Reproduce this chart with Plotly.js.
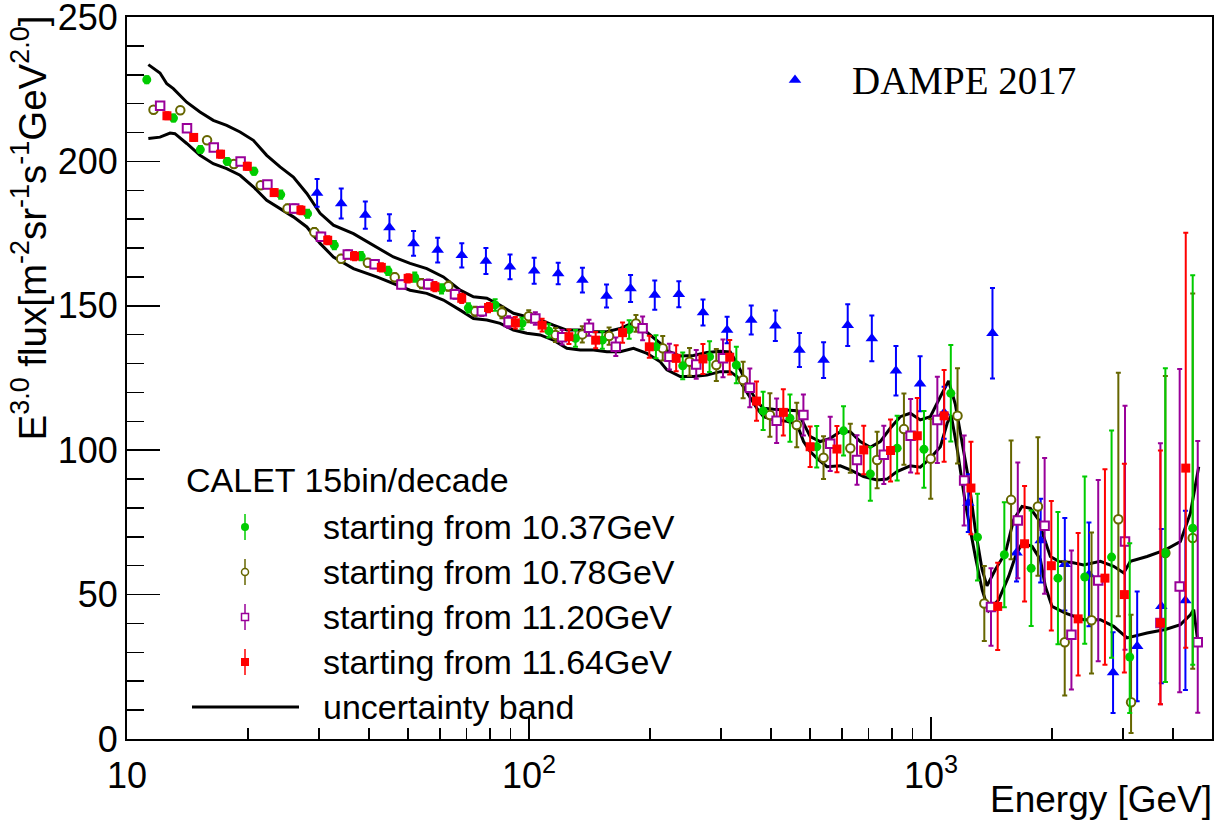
<!DOCTYPE html>
<html><head><meta charset="utf-8">
<script src="https://cdn.plot.ly/plotly-3.0.1.min.js"></script>
<style>html,body{margin:0;padding:0;background:#fff;} #chart{width:1219px;height:834px;}</style>
</head><body><div id="chart"></div>
<script>
// ---------------- data ----------------
const energyGreen = [11.20,13.05,15.22,17.75,20.69,24.12,28.13,32.79,38.23,44.58,51.97,60.59,70.65,82.37,96.04,112.0,130.5,152.2,177.5,206.9,241.2,281.3,327.9,382.3,445.8,519.7,605.9,706.5,823.7,960.4,1120,1305,1522,1775,2069,2412,2813,3121,3828,4477];
const fluxGreen = [228.3,215.0,204.1,200.0,196.6,188.5,181.9,171.0,167.2,162.1,159.9,155.9,149.3,150.3,143.9,141.3,138.7,138.1,141.8,135.8,129.2,132.4,129.5,113.6,111.1,101.2,106.7,91.8,100.7,100.3,119.7,69.9,63.8,59.1,55.7,56.1,63.0,28.4,64.4,73.0];
const errGreenUp = [1.2,1.2,1.2,1.2,1.2,1.4,1.4,1.4,1.4,1.4,1.6,1.6,1.6,2.0,2.0,2.3,2.9,3.0,3.2,4.0,4.6,5.3,6.3,6.6,8.2,7.2,8.5,9.3,11.2,13.3,16.7,15.0,18.2,20.0,22.9,34.8,43.8,39.4,64.0,87.6];
const errGreenDn = [1.2,1.2,1.2,1.2,1.2,1.4,1.4,1.4,1.4,1.4,1.6,1.6,1.6,2.0,2.0,2.3,2.9,3.0,3.2,4.0,4.6,5.3,6.3,6.6,8.2,7.2,8.5,9.3,11.2,13.3,16.7,15.0,18.2,20.0,22.9,23.1,34.9,19.4,44.7,47.3];

const energyOlive = [11.64,13.57,15.82,18.45,21.51,25.08,29.24,34.09,39.74,46.34,54.03,62.99,73.44,85.63,99.84,116.4,135.7,158.2,184.5,215.1,250.8,292.4,340.9,397.4,463.4,540.3,629.9,734.4,856.3,998.4,1164,1357,1582,1845,2151,2508,2924,3145,3828,4477];
const fluxOlive = [217.9,217.7,207.3,199.1,191.7,183.7,175.5,166.3,164.9,159.9,157.7,156.8,148.1,147.7,146.4,139.9,140.1,139.5,143.9,135.3,130.6,129.5,124.3,112.2,108.7,97.4,100.7,96.6,107.3,97.0,111.9,46.9,82.8,80.5,33.5,41.1,76.1,12.7,64.4,69.6];
const errOliveUp = [1.2,1.2,1.2,1.2,1.2,1.4,1.4,1.4,1.4,1.4,1.6,1.6,1.6,2.0,2.1,2.4,2.8,3.0,2.9,4.2,4.8,5.5,6.3,7.5,7.7,7.4,8.5,9.8,12.3,13.8,16.5,13.0,20.6,24.0,28.0,30.4,50.7,30.3,61.3,84.7];
const errOliveDn = [1.2,1.2,1.2,1.2,1.2,1.4,1.4,1.4,1.4,1.4,1.6,1.6,1.6,2.0,2.1,2.4,2.8,3.0,2.9,4.2,4.8,5.5,6.3,7.5,7.7,7.4,8.5,9.8,12.3,13.8,16.5,13.0,20.6,24.0,18.4,18.4,33.6,10.6,44.7,45.3];

const energyPurple = [12.09,14.10,16.44,19.17,22.35,26.06,30.38,35.42,41.30,48.15,56.14,65.45,76.31,88.97,103.7,120.9,141.0,164.4,191.7,223.5,260.6,303.8,354.2,413.0,481.5,561.4,654.5,763.1,889.7,1037,1209,1410,1644,1917,2235,2606,3038,3721,4155,4608];
const fluxPurple = [219.3,211.5,204.8,200.0,192.0,183.7,173.9,167.8,164.4,157.4,157.5,154.0,148.1,144.4,145.6,139.1,142.4,135.8,142.2,132.4,129.7,131.8,121.6,110.2,112.2,102.2,96.6,98.4,105.0,110.5,89.5,45.7,75.7,73.8,36.1,54.9,68.4,40.2,52.8,33.5];
const errPurpleUp = [1.2,1.2,1.2,1.2,1.2,1.4,1.4,1.4,1.4,1.4,1.6,1.6,1.6,2.0,2.2,2.5,2.8,3.2,4.1,4.5,5.0,6.5,6.7,7.7,7.1,9.4,8.6,10.1,12.7,14.9,15.6,13.4,20.0,23.5,29.2,34.8,47.0,62.2,75.3,69.7];
const errPurpleDn = [1.2,1.2,1.2,1.2,1.2,1.4,1.4,1.4,1.4,1.4,1.6,1.6,1.6,2.0,2.2,2.5,2.8,3.2,4.1,4.5,5.0,6.5,6.7,7.7,7.1,9.4,8.6,10.1,12.7,14.9,15.6,13.4,20.0,23.5,19.0,28.0,37.5,28.2,36.6,24.4];

const energyRed = [12.57,14.65,17.09,19.92,23.23,27.08,31.57,36.81,42.92,50.04,58.34,68.02,79.31,92.46,107.8,125.7,146.5,170.9,199.2,232.3,270.8,315.7,368.1,429.2,500.4,583.4,680.2,793.1,924.6,1078,1257,1465,1709,1992,2323,2708,3027,3721,4302];
const fluxRed = [215.8,208.3,202.5,198.3,189.2,183.1,172.7,167.2,163.3,159.5,156.6,152.6,149.4,144.1,143.3,139.3,138.1,140.7,135.8,131.8,131.6,132.2,117.0,113.1,101.2,100.4,100.1,99.9,105.0,111.9,86.9,45.9,67.6,60.0,41.6,55.7,50.0,40.2,93.8];
const errRedUp = [1.2,1.2,1.2,1.2,1.2,1.4,1.4,1.4,1.4,1.4,1.6,1.6,1.6,2.0,2.2,2.5,2.8,3.5,3.8,4.5,5.2,6.0,6.8,8.0,7.0,8.0,8.4,10.7,13.1,15.9,16.0,15.1,20.0,22.4,29.7,37.7,45.3,59.7,81.5];
const errRedDn = [1.2,1.2,1.2,1.2,1.2,1.4,1.4,1.4,1.4,1.4,1.6,1.6,1.6,2.0,2.2,2.5,2.8,3.5,3.8,4.5,5.2,6.0,6.8,8.0,7.0,8.0,8.4,10.7,13.1,15.9,16.0,15.1,20.0,22.4,19.6,30.0,27.0,28.2,62.2];

const energyDampe = [29.71,34.11,39.16,44.96,51.62,59.27,68.05,78.13,89.70,103.0,118.2,135.8,155.9,178.9,205.5,235.9,270.9,311.0,357.1,410.0,470.7,540.5,620.6,712.5,818.1,939.3,1078,1238,1422,1632,1874,2152,2471,2837,3257,3740,4294];
const fluxDampe = [189.1,185.4,181.4,177.1,171.6,169.3,167.5,165.5,163.5,162.1,161.2,158.9,153.4,156.0,153.7,154.0,147.7,141.6,145.1,143.1,134.7,131.2,143.3,138.7,127.5,123.0,113.0,81.7,140.5,64.5,68.7,60.5,57.0,23.0,32.1,46.0,48.0];
const errDampe = [4.8,5.2,4.7,4.6,4.3,4.3,4.2,4.5,4.3,4.5,3.7,4.3,4.0,4.7,5.1,4.5,4.5,4.6,5.0,5.3,5.9,6.2,7.2,7.9,8.6,9.5,9.0,10.0,15.7,10.0,14.5,16.0,18.0,14.0,19.0,26.7,31.0];

const bandUpperE = [11.30,12.08,12.56,13.04,14.08,15.19,16.39,17.70,19.11,20.62,22.26,24.03,25.93,28.01,30.22,32.62,36.58,41.82,45.99,50.60,55.69,61.25,67.42,72.74,78.56,84.78,91.49,98.77,106.6,115.0,124.2,134.1,144.7,156.2,168.6,178.5,189.1,200.2,212.1,220.3,237.8,256.6,277.1,299.0,316.7,329.0,341.7,355.1,369.0,383.2,405.8,438.3,464.1,481.9,500.7,530.3,561.5,594.6,629.7,666.8,706.2,747.8,791.7,838.6,888.0,940.5,996,1055,1106,1149,1195,1241,1289,1340,1378,1445,1531,1605,1684,1767,1853,1906,1981,2078,2243,2397,2638,2847,3015,3133,3447,3828,4172,4418,4634];
const bandUpper = [233.5,230.6,226.9,225.2,220.5,217.1,214.2,212.5,210.2,207.3,202.1,198.1,194.6,188.9,182.0,177.9,175.0,170.4,166.9,164.7,162.9,160.0,155.4,153.1,152.6,150.2,147.4,146.2,145.1,143.3,141.6,141.6,141.0,141.0,142.2,143.7,142.7,139.9,137.0,134.5,132.6,132.8,133.8,134.3,134.0,130.1,125.5,120.9,116.8,114.5,114.2,113.9,113.7,109.3,104.7,103.0,104.1,106.4,106.4,103.0,101.0,103.0,107.6,111.6,112.8,110.5,111.6,118.5,124.0,116.0,102.4,89.7,72.5,58.6,53.0,58.6,64.4,75.9,80.5,79.9,75.9,70.1,63.2,61.5,61.1,60.3,61.5,59.8,57.5,61.5,63.2,65.5,68.4,78.2,94.3];
const bandLowerE = [11.30,12.08,12.80,13.16,14.08,15.19,16.39,17.70,19.11,20.62,22.26,24.03,25.93,28.01,30.22,32.62,36.58,41.82,45.99,50.60,55.69,61.25,67.42,72.74,78.56,84.78,91.49,98.77,106.6,115.0,124.2,134.1,144.7,156.2,168.6,181.9,196.5,212.1,220.3,237.8,256.6,277.1,299.0,316.7,329.0,341.7,355.1,369.0,383.2,405.8,438.3,464.1,481.9,500.7,520.4,551.1,594.6,629.7,679.6,733.8,777.0,823.0,888.0,940.5,996,1055,1098,1123,1163,1217,1289,1340,1391,1473,1560,1621,1684,1784,1871,1925,2000,2159,2397,2638,2847,3074,3447,3828,4172,4418,4503,4608];
const bandLower = [207.9,208.4,209.8,209.6,206.2,202.1,199.2,197.5,195.2,191.2,186.5,183.7,180.8,177.3,171.6,166.9,162.9,160.0,157.7,155.4,154.3,152.0,148.5,145.6,145.1,143.9,141.6,140.5,139.9,138.1,135.3,134.7,134.7,134.1,134.1,135.3,133.5,130.6,127.8,125.5,125.5,126.0,127.2,127.2,125.5,122.0,118.5,114.5,111.6,110.5,110.0,109.0,103.0,99.5,97.2,94.3,94.6,93.2,90.9,89.7,90.0,92.6,94.6,94.1,97.2,101.2,109.5,112.0,100.0,81.7,63.2,51.7,44.5,48.2,56.3,63.2,67.8,66.7,62.1,52.8,45.9,43.6,41.3,41.3,39.0,35.0,36.7,37.9,39.6,43.0,44.8,33.8];

const xTickVals = [10, 100, 1000];
const xTickText = ['10', '10<sup>2</sup>', '10<sup>3</sup>'];
const xMinorVals = [20,30,40,50,60,70,80,90,200,300,400,500,600,700,800,900,2000,3000,4000];
const yTickVals = [0, 50, 100, 150, 200, 250];

const legendTitle = 'CALET 15bin/decade';
const legendLabels = ['starting from 10.37GeV','starting from 10.78GeV','starting from 11.20GeV','starting from 11.64GeV','uncertainty band'];
const dampeLabel = 'DAMPE 2017';

// ---------------- styles ----------------
const GREEN = '#00cc00', OLIVE = '#666600', PURPLE = '#990099', RED = '#ff0000', BLUE = '#0000ff';
const SANS = 'Liberation Sans, Arial, Helvetica, sans-serif';
const SERIF = 'Liberation Serif, Times New Roman, serif';

function errs(up, dn, color) {
  return {type: 'data', symmetric: false, array: up, arrayminus: dn, color: color, thickness: 2, width: 2.5};
}

const traces = [];
// uncertainty band
traces.push({x: bandUpperE, y: bandUpper, mode: 'lines', line: {color: '#000', width: 3}, hoverinfo: 'skip'});
traces.push({x: bandLowerE, y: bandLower, mode: 'lines', line: {color: '#000', width: 3}, hoverinfo: 'skip'});
// DAMPE
traces.push({x: energyDampe, y: fluxDampe, mode: 'markers',
  marker: {symbol: 'triangle-up', size: 11, color: BLUE},
  error_y: {type: 'data', array: errDampe, color: BLUE, thickness: 2, width: 2.5}});
// CALET series
traces.push({x: energyOlive, y: fluxOlive, mode: 'markers',
  marker: {symbol: 'circle', size: 8.5, color: '#fff', line: {color: OLIVE, width: 2}},
  error_y: errs(errOliveUp, errOliveDn, OLIVE)});
traces.push({x: energyPurple, y: fluxPurple, mode: 'markers',
  marker: {symbol: 'square', size: 8.5, color: '#fff', line: {color: PURPLE, width: 2}},
  error_y: errs(errPurpleUp, errPurpleDn, PURPLE)});
traces.push({x: energyGreen, y: fluxGreen, mode: 'markers',
  marker: {symbol: 'circle', size: 9, color: GREEN},
  error_y: errs(errGreenUp, errGreenDn, GREEN)});
traces.push({x: energyRed, y: fluxRed, mode: 'markers',
  marker: {symbol: 'square', size: 9, color: RED},
  error_y: errs(errRedUp, errRedDn, RED)});

// ---------------- legend keys (pixel overlay axes) ----------------
const LEG_KEY_X = 245, LEG_TEXT_X = 321, LEG_ROWS = [527, 572, 617, 662, 707];
const legKey = (sym, size, fill, color, lw, row) => ({
  x: [LEG_KEY_X], y: [LEG_ROWS[row]], xaxis: 'x2', yaxis: 'y2', mode: 'markers', hoverinfo: 'skip',
  marker: {symbol: sym, size: size, color: fill, line: {color: color, width: lw}},
  error_y: {type: 'data', array: [13], color: color, thickness: 1.5, width: 0}
});
traces.push(legKey('circle', 8, GREEN, GREEN, 0, 0));
traces.push(legKey('circle', 7, '#fff', OLIVE, 1.5, 1));
traces.push(legKey('square', 7, '#fff', PURPLE, 1.5, 2));
traces.push(legKey('square', 8, RED, RED, 0, 3));
traces.push({x: [192, 299], y: [LEG_ROWS[4], LEG_ROWS[4]], xaxis: 'x2', yaxis: 'y2', mode: 'lines',
  line: {color: '#000', width: 3}, hoverinfo: 'skip'});
traces.push({x: [795], y: [80], xaxis: 'x2', yaxis: 'y2', mode: 'markers', hoverinfo: 'skip',
  marker: {symbol: 'triangle-up', size: 11, color: BLUE}});

const annotations = [];
annotations.push({xref: 'x2', yref: 'y2', x: 184, y: 480, xanchor: 'left', yanchor: 'middle',
  text: legendTitle, showarrow: false, font: {family: SANS, size: 34, color: '#000'}});
legendLabels.forEach((t, i) => annotations.push({xref: 'x2', yref: 'y2', x: LEG_TEXT_X, y: LEG_ROWS[i],
  xanchor: 'left', yanchor: 'middle', text: t, showarrow: false, font: {family: SANS, size: 34, color: '#000'}}));
annotations.push({xref: 'x2', yref: 'y2', x: 850, y: 80, xanchor: 'left', yanchor: 'middle',
  text: dampeLabel, showarrow: false, font: {family: SERIF, size: 39, color: '#000'}});
// axis titles
annotations.push({xref: 'paper', yref: 'paper', x: 0, y: 1, xshift: -124, yshift: 3, xanchor: 'left', yanchor: 'top',
  textangle: -90, showarrow: false,
  text: 'E<sup>3.0</sup> flux[m<sup>-2</sup>sr<sup>-1</sup>s<sup>-1</sup>GeV<sup>2.0</sup>]',
  font: {family: SANS, size: 38.5, color: '#000'}});
annotations.push({xref: 'paper', yref: 'paper', x: 1, y: 0, xshift: 2, yshift: -38, xanchor: 'right', yanchor: 'top',
  text: 'Energy [GeV]', showarrow: false, font: {family: SANS, size: 37, color: '#000'}});

const layout = {
  width: 1219, height: 834,
  margin: {l: 127, r: 7, t: 17, b: 95},
  paper_bgcolor: '#fff', plot_bgcolor: '#fff',
  showlegend: false,
  font: {family: SANS, color: '#000'},
  xaxis: {
    type: 'log', range: [1, Math.log10(5000)], tickmode: 'array', tickvals: xTickVals, ticktext: xTickText,
    ticks: 'inside', ticklen: 22, tickwidth: 1.5, tickcolor: '#000', ticklabelstandoff: 4,
    minor: {tickmode: 'array', tickvals: xMinorVals, ticks: 'inside', ticklen: 11, tickwidth: 1.5, tickcolor: '#000'},
    showline: true, linewidth: 2, linecolor: '#000', mirror: true,
    showgrid: false, zeroline: false, ticklabeloverflow: 'allow',
    tickfont: {family: SANS, size: 36, color: '#000'}
  },
  yaxis: {
    range: [0, 250], tickmode: 'array', tickvals: yTickVals,
    ticks: 'inside', ticklen: 33, tickwidth: 1.5, tickcolor: '#000',
    minor: {dtick: 10, tick0: 0, ticks: 'inside', ticklen: 17, tickwidth: 1.5, tickcolor: '#000'},
    showline: true, linewidth: 2, linecolor: '#000', mirror: true,
    showgrid: false, zeroline: false, ticklabeloverflow: 'allow',
    tickfont: {family: SANS, size: 36, color: '#000'}
  },
  xaxis2: {overlaying: 'x', anchor: 'y2', range: [127, 1212], visible: false, fixedrange: true},
  yaxis2: {overlaying: 'y', anchor: 'x2', range: [739, 17], visible: false, fixedrange: true},
  annotations: annotations
};

Plotly.newPlot('chart', traces, layout, {displayModeBar: false, staticPlot: true});
</script>
</body></html>
